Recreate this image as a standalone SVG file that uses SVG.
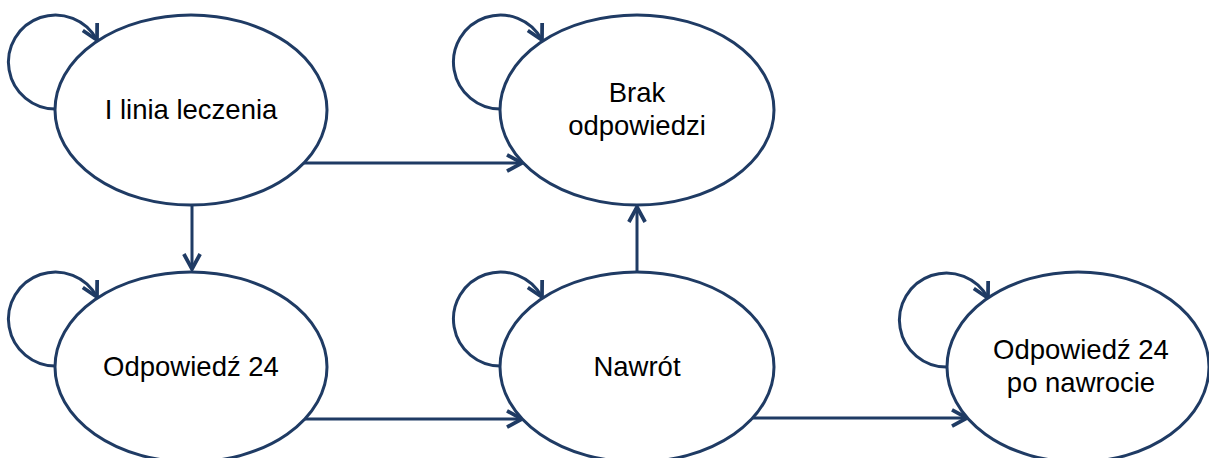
<svg xmlns="http://www.w3.org/2000/svg" width="1209" height="458" viewBox="0 0 1209 458">
<defs>
<style>
.node ellipse{fill:#fff;stroke:#1f3b64;stroke-width:3}
.node text{font-family:"Liberation Sans",Arial,sans-serif;font-size:27.5px;fill:#000;text-anchor:middle}
#connectors path{fill:none;stroke:#1f3b64;stroke-width:3}
</style>
<marker id="arr" markerUnits="userSpaceOnUse" markerWidth="20" markerHeight="20" viewBox="-14 -8 16 16" refX="0" refY="0" orient="auto">
<path d="M-12,-6.5 L0,0 L-12,6.5" fill="none" stroke="#1f3b64" stroke-width="3" stroke-linejoin="miter"/>
</marker>
</defs>
<rect width="1209" height="458" fill="#fff"/>
<g id="connectors">
<path d="M56,109 A47,47 0 1 1 97,40" marker-end="url(#arr)"/>
<path d="M501,109 A47,47 0 1 1 542,40" marker-end="url(#arr)"/>
<path d="M56,366 A47,47 0 1 1 97,297" marker-end="url(#arr)"/>
<path d="M501,366 A47,47 0 1 1 542,297" marker-end="url(#arr)"/>
<path d="M947,367 A47,47 0 1 1 988,298" marker-end="url(#arr)"/>
<path d="M304,163 L522,163" marker-end="url(#arr)"/>
<path d="M192,205 L192,269" marker-end="url(#arr)"/>
<path d="M637,271 L637,207" marker-end="url(#arr)"/>
<path d="M304,419 L522,419" marker-end="url(#arr)"/>
<path d="M752,418 L967,418" marker-end="url(#arr)"/>
</g>
<g id="n1" class="node">
<ellipse cx="191" cy="110" rx="136" ry="95"/>
<text x="191" y="119">I linia leczenia</text>
</g>
<g id="n2" class="node">
<ellipse cx="637" cy="110" rx="137" ry="95"/>
<text x="637" y="102">Brak</text>
<text x="637" y="135">odpowiedzi</text>
</g>
<g id="n3" class="node">
<ellipse cx="191" cy="367" rx="136" ry="95"/>
<text x="191" y="376">Odpowiedź 24</text>
</g>
<g id="n4" class="node">
<ellipse cx="637" cy="367" rx="137" ry="95"/>
<text x="637" y="376">Nawrót</text>
</g>
<g id="n5" class="node">
<ellipse cx="1078" cy="367" rx="131" ry="95"/>
<text x="1081" y="359">Odpowiedź 24</text>
<text x="1081" y="392">po nawrocie</text>
</g>
</svg>
